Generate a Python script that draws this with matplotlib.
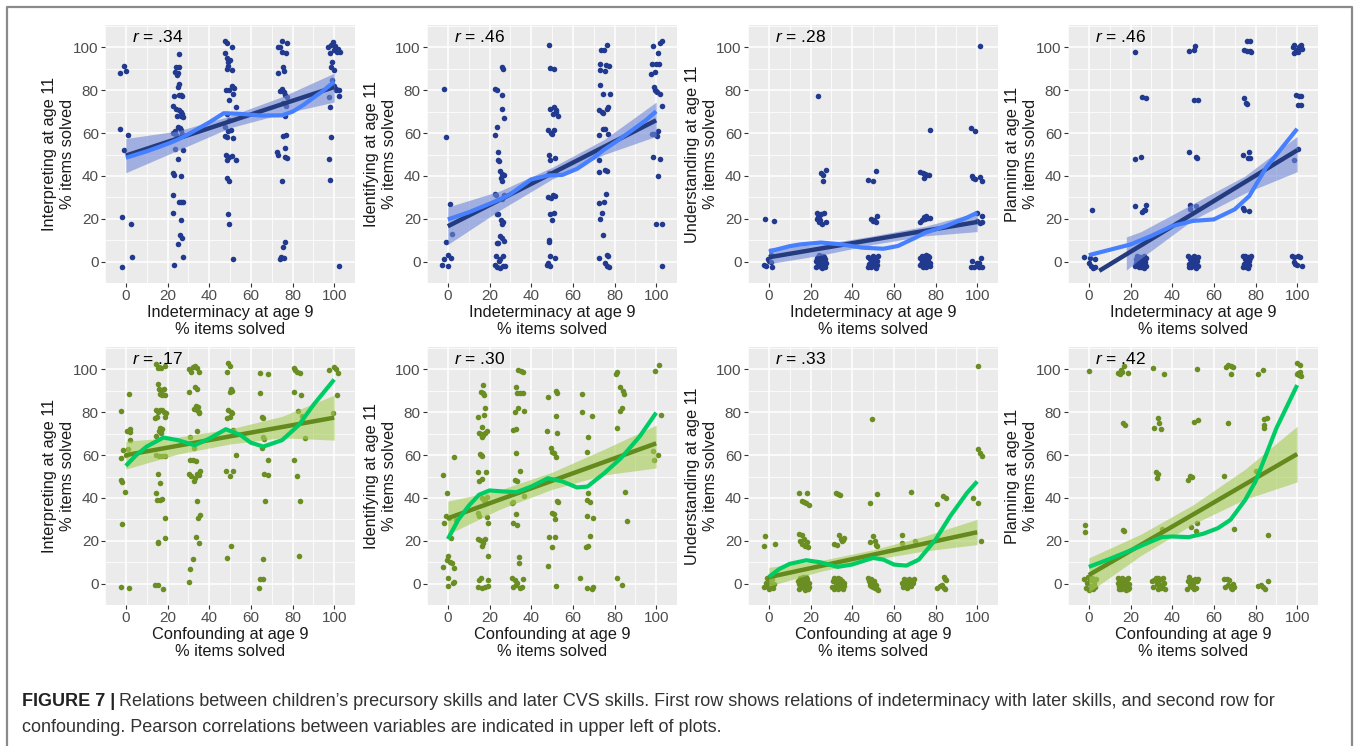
import matplotlib
matplotlib.use("Agg")
import matplotlib.pyplot as plt
from matplotlib.ticker import MultipleLocator
import numpy as np

plt.rcParams['font.family'] = ['Liberation Sans', 'DejaVu Sans']
plt.rcParams['mathtext.fontset'] = 'custom'
plt.rcParams['mathtext.it'] = 'Liberation Sans:italic'
plt.rcParams['mathtext.rm'] = 'Liberation Sans'

# ---------------- data ----------------
y_names = ["Interpreting", "Identifying", "Understanding", "Planning"]
x_names = ["Indeterminacy", "Confounding"]
r_values = [[".34", ".46", ".28", ".46"], [".17", ".30", ".33", ".42"]]

# row 1: indeterminacy (x) vs. later skills (y)
pts_ind_interp = [
    (-2.7, 88), (-0.8, 91.5), (0, 89), (-2.7, 62), (-0.8, 52), (1.1, 59), (-1.8, 21), (2.7, 17.4), (3, 2.2), (-1.9, -2.3),
    (25.5, 97), (24, 91), (25.5, 91), (23.5, 88.5), (25, 88), (24.5, 87), (25.5, 83), (25, 81.5), (23, 77.5), (25.5, 78),
    (26.5, 78), (27, 77.5), (22.5, 72.5), (24, 71.5), (25.5, 71), (26.5, 70), (27, 69), (24.5, 68), (26.5, 68), (27.5, 67.5),
    (25, 63), (26, 62.5), (23.5, 61), (22.5, 60), (24, 59), (26.5, 61.5), (27, 59.5), (23.5, 52.5), (27.5, 52), (25, 48),
    (22.5, 41.5), (23, 40.5), (26.5, 40), (22.5, 31), (25.5, 28), (26.5, 28), (27.5, 28), (22.5, 22.5), (26.5, 19.5),
    (26, 12.5), (27, 11), (25, 8), (27.5, 2.3), (23, -1.5),
    (47.5, 103), (48.5, 102), (51, 100), (47.5, 97.5), (48.5, 95), (50, 94), (49, 93), (49, 91.5), (48.5, 90), (51, 89.5),
    (48, 80), (49.5, 80), (51, 82), (52, 81), (51.5, 78.5), (49.5, 75.5), (53, 72), (48.5, 69), (49.5, 66), (47.5, 63),
    (50.5, 61.5), (49, 61), (47.5, 58.5), (48.5, 58), (51.5, 57.5), (48, 50), (49.5, 49), (51, 49.5), (48.5, 47.5),
    (53, 47.5), (48.5, 39), (49.5, 37.5), (49, 22), (49.5, 17.4), (51.5, 1),
    (75, 103), (77.5, 102), (73, 100), (74, 100), (75, 98), (77, 97.5), (75.5, 91), (76, 89), (73, 88), (74, 79.5),
    (75, 80.5), (76, 79), (76.5, 78), (77.5, 77), (75.5, 74), (77, 72.5), (76.5, 68), (75.5, 58.5), (77, 59), (72.5, 51),
    (73, 50), (76.5, 53), (76.5, 49), (77.5, 48.5), (75, 37.5), (76.5, 9), (75.5, 7), (74.5, 2), (76, 1.5), (74, 1),
    (97, 100), (98.5, 101), (99.5, 102.5), (100, 99), (101.5, 98), (100.5, 100.5), (102, 99.5), (98, 97.5), (99, 93),
    (98.5, 91), (100, 89.5), (99, 85), (100, 82), (101, 80.5), (102.5, 80), (97.5, 77), (102.5, 77.5), (98, 72),
    (98.5, 58), (97.5, 48), (98, 38), (102.5, -2), (101, 80), (103, 98),
]
pts_ind_ident = [
    (-2, 80.5), (-1, 58), (1, 27), (2, 13), (-1, 9), (0, 3), (1.5, 1.5), (-2, 1), (-3, -1.5), (0, -2),
    (26, 91), (26.5, 90), (22.5, 80.5), (23.5, 80), (26, 78), (26, 71.5), (27, 67), (23.5, 63), (22.5, 59), (24, 51),
    (24, 47.5), (24.5, 47), (25, 42.5), (26, 41), (27, 40.5), (25.5, 39), (26, 37.5), (22.5, 31.5), (23, 31), (26, 29),
    (27, 31), (23.5, 22), (24, 22), (25.5, 19.5), (26.5, 18.5), (26, 17.5), (25, 12), (26, 11), (27, 9.5), (23.5, 8.5),
    (24, 8.5), (23, 2.5), (25, 1), (26.5, 2.5), (24.5, 0.5), (22.5, -1.5), (23.5, -2.5), (25, -3), (26.5, -2), (27.5, -2),
    (48.5, 101), (49, 90.5), (51, 90), (49, 71.5), (51, 72), (52, 71), (50.5, 69), (52, 70), (53, 68), (48, 61.5),
    (51, 61.5), (49.5, 60), (50, 59.5), (48.5, 50), (49, 47.5), (51.5, 48.5), (48.5, 41.5), (51.5, 42), (48, 30),
    (49.5, 29.5), (50.5, 31), (51.5, 30.5), (49, 22), (50, 19.5), (51, 22.5), (48.5, 10), (48.5, 9), (49, 2.5),
    (51.5, 1.5), (48, -0.5), (47.5, -1.5), (49, -2),
    (76.5, 101), (75, 99), (73.5, 99), (73, 92.5), (76, 92), (77.5, 91.5), (73, 89.5), (75.5, 89), (73, 82.5), (74.5, 78.5),
    (78, 78.5), (77, 72), (76.5, 71.5), (72.5, 71), (74, 70), (74.5, 69.5), (74.5, 62), (75.5, 62), (77, 59.5), (72.5, 59),
    (72.5, 47.5), (75.5, 43), (72.5, 42), (76.5, 42.5), (76, 31.5), (75, 28), (72.5, 27.5), (74, 22.5), (73, 20),
    (74.5, 12.5), (72.5, 1.5), (76.5, 3), (77, 2.5), (75.5, -0.5), (76.5, -2), (77.5, -2.5),
    (103, 103), (102, 102), (98.5, 100.5), (101, 97.5), (98, 92.5), (100, 92.5), (101.5, 92.5), (97.5, 87.5), (99.5, 88.5),
    (99, 81.5), (99.5, 80), (100, 79.5), (100.5, 79), (102, 78.5), (103, 72.5), (101, 61), (98, 59.5), (99, 59.5),
    (100.5, 58.5), (98.5, 49), (102, 48), (101, 40), (100, 17.5), (103, 17.5), (103, -2),
]
pts_ind_under = [
    (-2, 20), (2.5, 19), (-2.5, -1.5), (-1.5, -2), (0, 0.5), (1, 0), (1.5, -2.5), (-0.5, 1), (1, 3),
    (23.5, 77.5), (25, 41.5), (26, 40.5), (27.5, 43), (26, 37.5), (23, 22.5), (24, 21.5), (25, 22), (26.5, 22.5), (23, 20),
    (24.5, 19.5), (25.5, 17.5), (24, 18.5), (27.5, 18.5), (23.5, 21), (22.5, -2.5), (23, 0), (23.5, 2), (24, -1), (24.5, 1),
    (25, -2.5), (25.5, 0.5), (26, 2.5), (26.5, -1.5), (27, 1), (27.5, -0.5), (24, 3), (25.5, -3), (26.5, 2), (27, -2.5),
    (23, 1.5), (24.5, -1.5), (26, -0.5), (22.5, 0.5), (25, 2.5),
    (47.5, 38), (50, 37.5), (51.5, 42.5), (49, 20), (50.5, 19.5), (52, 21.5), (51.5, 18.5), (50, 19), (47.5, 2), (48, -1),
    (48.5, 1), (49, -2.5), (49.5, 0), (50, 2.5), (50.5, -1.5), (51, 1.5), (51.5, -3), (52, 0.5), (52.5, 2.5), (48.5, -2),
    (50, -0.5), (51, -2), (49, 1.5), (52, -1.5), (47.5, -2.5), (50.5, 0.5),
    (77.5, 61.5), (72.5, 42), (74, 41.5), (75, 41), (76, 40.5), (77, 40.5), (74.5, 39), (72.5, 18.5), (73.5, 19.5),
    (74.5, 21), (75.5, 21.5), (76.5, 20.5), (77.5, 20.5), (75, 20), (72.5, 1.5), (73, -1), (73.5, 2.5), (74, 0), (74.5, -2),
    (75, 1), (75.5, 3), (76, -1.5), (76.5, 0.5), (77, 2), (77.5, -0.5), (74, -2.5), (75.5, -2.5), (76.5, 2.5), (73.5, 0.5),
    (77.5, -2), (72.5, -1.5),
    (101.5, 100.5), (97, 62.5), (99, 61), (97.5, 40), (98, 39), (99, 38.5), (101.5, 39.5), (102.5, 37.5), (100, 22.5),
    (102.5, 21.5), (100, 19), (101.5, 18), (102.5, 18.5), (97.5, 0.5), (98.5, -2.5), (97, -2.5), (100, -0.5), (101, -0.5),
    (102, 1.5), (101, -2.5), (102.5, -2.5),
]
pts_ind_plan = [
    (1.5, 24), (-2.5, 2), (3, 1), (0, -0.5), (1, -2), (2, -3), (3, -2.5), (0.5, 1.5),
    (22, 98), (25.5, 77), (27.5, 76.5), (22, 48), (25, 49), (22, 26), (27.5, 26.5), (25.5, 23), (27, 24), (26.5, 24),
    (22, -2), (22.5, 1), (23, 2.5), (23.5, -1), (24, 0.5), (24.5, 2), (25, -2.5), (25.5, 1.5), (26, -0.5), (26.5, 2.5),
    (27, 0), (27.5, -2), (22.5, -0.5), (24, -2.5), (25.5, -1.5), (26.5, -3), (27.5, 1.5), (23, 0), (24.5, -1.5), (26, 2),
    (48, 98.5), (50.5, 99), (51, 100.5), (50.5, 75.5), (52.5, 75.5), (48, 51), (51.5, 49), (52, 48.5), (48.5, 26.5),
    (48.5, 24.5), (51.5, 26), (47.5, 2.5), (48, -1), (48.5, 1), (49, -2.5), (49.5, 0), (50, 2), (50.5, -1.5), (51, 1),
    (51.5, -3), (52, 0.5), (52.5, 2), (48, -2.5), (49.5, -1.5), (50.5, 2.5), (51.5, -0.5), (52.5, -2), (49, 1.5), (50, -0.5),
    (76, 103), (77.5, 103), (74.5, 99), (76, 98.5), (77.5, 98.5), (78, 98), (74.5, 76.5), (75.5, 74), (76, 73.5), (74, 50),
    (77, 51), (76.5, 48.5), (77.5, 48.5), (74, 25), (74.5, 24), (77, 23.5), (74, 2.5), (74.5, -1), (75, 1), (75.5, -2.5),
    (76, 0), (76.5, 2), (77, -1.5), (77.5, 1.5), (78, 2.5), (74, -2.5), (75.5, -0.5), (76.5, -3), (77, 0.5), (75, 2.5),
    (98, 100), (98.5, 101), (99.5, 98.5), (100, 99), (101, 100), (102, 101), (102.5, 99.5), (100.5, 98), (101.5, 100.5),
    (98.5, 97.5), (99.5, 78), (101, 77.5), (102, 77.5), (100.5, 73), (102, 73), (100.5, 52.5), (98.5, 47.5), (97.5, 2.5),
    (98.5, 2), (100.5, 2.5), (101.5, 2), (98.5, 0), (99, -1), (100, -1.5), (102.5, -2),
]

# row 2: confounding (x) vs. later skills (y)
pts_conf_interp = [
    (-2.5, 80.5), (0.5, 71.5), (2, 72), (2, 71), (1.5, 88.5), (2, 67), (1, 63), (-1.5, 62.5), (-2.5, 58.5), (0, 60),
    (-2.5, 48.5), (-2, 47.5), (-0.5, 43), (-2, 28), (-2.5, -1.5), (1.5, -2),
    (14.5, 102.5), (16, 101), (15.5, 100.5), (17, 100.5), (19, 101.5), (15.5, 93), (16, 91), (17.5, 90.5), (18.5, 91),
    (16.5, 88.5), (17.5, 88), (19, 88), (14.5, 81), (15.5, 80), (16.5, 81), (17.5, 81), (18.5, 80), (19.5, 79.5), (14, 77.5),
    (15, 78), (19, 78), (16.5, 72.5), (17.5, 72), (16, 71.5), (17, 70.5), (14.5, 69), (14.5, 60), (16, 59.5), (17.5, 59.5),
    (19, 59.5), (15.5, 51), (16.5, 47), (14.5, 42.5), (15, 39), (16.5, 39), (17.5, 39.5), (19, 30.5), (19, 21.5),
    (15.5, 19.5), (15.5, 19), (14, -0.5), (15.5, -0.5), (18, -2.5),
    (30.5, 100), (31.5, 99), (32, 101), (33, 101.5), (34, 100.5), (35, 99), (33, 92), (34, 91), (30.5, 89.5), (33.5, 83),
    (34.5, 82.5), (34, 81), (35, 80), (32.5, 81.5), (35, 79.5), (34, 71.3), (31, 68.6), (32.5, 63.4), (31, 57.8),
    (32, 57.5), (33.5, 57.3), (30.5, 51.2), (31.5, 50.3), (33, 49.2), (34, 51), (32.5, 47.7), (35.5, 52.8), (35, 50.8),
    (34, 38.8), (35.5, 32), (34.5, 30.6), (33.5, 21.7), (35, 19), (32, 11.5), (31, 7), (30.5, 0.8),
    (49, 102.8), (50, 101.5), (48.5, 99), (50.5, 91), (51, 90), (50, 89.6), (49, 81), (50.5, 80), (51, 79.5), (50, 78),
    (48.5, 77.5), (51.5, 71.7), (53, 60), (48, 52.8), (51.5, 52.8), (50, 50.3), (50.5, 17.7), (48.5, 12),
    (64.5, 98.4), (68, 98), (64.5, 89), (65.5, 78), (66, 77.5), (66, 68.6), (66.5, 67.4), (65.5, 63.2), (68, 57.5),
    (66.5, 51.2), (68, 50.5), (67, 38.4), (66, 11.5), (64.5, 2.2), (66, 2.2), (64, -2),
    (80.5, 100.5), (81, 99.7), (82, 98.8), (83.5, 98.4), (80.5, 89.6), (84, 88), (82.5, 80.6), (84.5, 78.3), (86, 68),
    (80.5, 57.8), (82, 50.3), (83.5, 38.4), (83, 12.7),
    (97.5, 99.7), (100, 101), (101, 100), (101.5, 88), (99.5, 79.5), (102, 98.5),
]
pts_conf_ident = [
    (-2.5, 50.5), (-0.5, 42.2), (3, 58.9), (-1, 31.4), (-2, 28.3), (0.5, 30.6), (4, 29.8), (1.5, 21.3), (0, 13),
    (-0.5, 11.2), (1, 10), (2, 9.6), (-2.5, 7.8), (3, 7.3), (0, 2.6), (2.5, 0.3), (0, -1.2), (3, 0.8),
    (17, 92.7), (16, 89.6), (17, 88.8), (17.5, 88), (18, 81.8), (17.5, 78.7), (14.5, 77.6), (16.5, 73), (15, 70.5),
    (16, 70), (17, 69.5), (18, 70.5), (16.5, 68.6), (19, 71.3), (15.5, 60.5), (16, 60), (16.5, 59.6), (14.5, 52.3),
    (15, 47.7), (16.5, 48.8), (18.5, 52.3), (16.5, 40), (17.5, 39), (19, 40.5), (18, 38.4), (14.5, 33.2), (15, 31.4),
    (19, 31), (19.5, 28.3), (14.5, 20.8), (15.5, 20.5), (17, 19), (16.5, 17.7), (18, 21), (19.5, 12.7), (16, 2.6),
    (15, 1.6), (19.5, 1.6), (14.5, -1.6), (16.5, -2), (18, -1.6), (19.5, -1.2),
    (33.5, 99.7), (35, 99.2), (36, 99), (32.5, 91.6), (33, 88.8), (34.5, 89), (36, 89), (32, 80.2), (33.5, 81.8),
    (36.5, 80.8), (31.5, 71.7), (32.5, 72.4), (32.5, 61), (34.5, 52.8), (32, 48.4), (33, 47.7), (36.5, 40.7), (31.5, 38),
    (31, 37.6), (32.5, 32.5), (31.5, 28.3), (33, 27.5), (34, 12.3), (34, 9.6), (31, 2.6), (32, 1.6), (33, 0.3), (34.5, -2),
    (35.5, -1.6), (36, 2), (31.5, -1.6), (32.5, -0.5),
    (48, 87.3), (52, 90), (52.5, 89), (52, 78.3), (47.5, 71.3), (52.5, 70.5), (49.5, 63.2), (50, 61.6), (51, 60.9),
    (52, 59.3), (52.5, 38.8), (53, 38), (50, 33.2), (51, 32.5), (51.5, 30.3), (48.5, 21.7), (51.5, 21.7), (50, 17),
    (48, 8.4), (52, -1.2),
    (64.5, 88.4), (64.5, 80.3), (69, 78.3), (67.5, 68.6), (67, 61.6), (67.5, 42.5), (67, 39), (68, 38), (67, 31.7),
    (69.5, 30.6), (68, 22.4), (67.5, 17.7), (66.5, 17), (63.5, 2.6), (67, -2), (69, -2.5), (69.5, -1.6),
    (81, 99), (80.5, 98.1), (82.5, 91.6), (84, 89.9), (84.5, 88.4), (83.5, 82.1), (82.5, 80.7), (81, 72.8), (85, 42.7),
    (86, 29), (81, 2.6), (83.5, -0.5),
    (101.5, 102.3), (99.5, 99.2), (102.5, 78.7), (98.5, 62.1), (101, 60.1), (99, 57.8),
]
pts_conf_under = [
    (-2, 22), (-2.5, 17.4), (3, 18.5), (-2.5, -1.5), (-1.5, 0.5), (-1, 2.5), (0, -2.5), (0.5, 1), (1, -1), (1.5, 2),
    (2, -2), (2.5, 0), (-0.5, -1.5), (1, 3), (0, 0.5),
    (14.5, 42.5), (18.5, 42.2), (16, 38.4), (17, 38), (18, 37.6), (19.5, 36.8), (14.5, 23), (16, 22.5), (17, 21), (15, 20),
    (18.5, 19.5), (16, 18.5), (17.5, 17.5), (19, 17), (14, 1), (14.5, -2.5), (15, 2.5), (15.5, -1), (16, 0.5), (16.5, 3),
    (17, -2), (17.5, 1.5), (18, -0.5), (18.5, 2), (19, -2.5), (19.5, 0.5), (14.5, 0), (15.5, 2), (16.5, -1.5), (17.5, -3),
    (18.5, 1), (19.5, -1.5), (16, 1.5), (18, 3),
    (32, 42.5), (33, 41.9), (34, 41.5), (31.5, 18.5), (32.5, 18), (33.5, 22.5), (34.5, 21), (35.5, 20.5), (35, 19.7),
    (36, 21.5), (30.5, -1.5), (31, 1), (31.5, 2.5), (32, -0.5), (32.5, 1.5), (33, -2.5), (33.5, 0), (34, 2), (34.5, -1.5),
    (35, 1), (35.5, -2.5), (36, 0.5), (31.5, -2.5), (33, 2.5), (34.5, 0.5), (36, -1),
    (49.5, 76.9), (48.5, 37.6), (52, 41.8), (50, 22.4), (48.5, 19.3), (51, 19.8), (51.5, 18.2), (52, 17.4), (47.5, 2.5),
    (48, 1), (48.5, -0.5), (49, 2), (49.5, 0), (50, -1.5), (50.5, 1), (51, -2), (51.5, -0.5), (52, -2.5), (52.5, -3),
    (49, -1),
    (68, 43), (64, 22.8), (64, 19), (70, 20), (64, 0.5), (64.5, -1.5), (65, 2), (65.5, -0.5), (66, 1.5), (66.5, -2),
    (67, 0), (67.5, 2), (68, -1), (68.5, 1), (69, 0.5), (69.5, 2),
    (80.5, 37.3), (83.5, 40.7), (85, 40), (84, 3), (84.5, 2.2), (85, 1.5), (83, -0.5), (84, -2), (84.5, -2.5), (80.5, -2),
    (82, -1),
    (100.5, 101.5), (100.5, 62.9), (101.5, 60.9), (102.5, 59.6), (98, 40.2), (100.5, 37.6), (102, 19.7),
]
pts_conf_plan = [
    (0, 99.2), (-2, 27.2), (-2, 24.1), (-2.5, 2), (-1.5, -2), (-1, 0.5), (0, -3), (0.5, 1.5), (1, -1), (1.5, 2.5),
    (2, -2.5), (2.5, 0.5), (3, -1.5), (-0.5, 3), (3.5, 2),
    (14, 98.5), (15, 97.8), (16, 99), (17, 101.5), (15.5, 99.7), (19, 98.4), (16.5, 74.8), (17.5, 74), (16.5, 25.1),
    (17, 24.4), (14, 2.5), (14.5, -1), (15, 1), (15.5, -2.5), (16, 0), (16.5, 2), (17, -1.5), (17.5, 1.5), (18, -3),
    (18.5, 0.5), (19, 2.5), (19.5, -2), (14.5, -2.5), (15.5, 2), (16.5, -0.5), (17.5, -2.5), (18.5, 2), (19.5, 0),
    (15, -1.5), (16, 2.5), (17, 0.5), (18, -1), (19, -2.5), (14, 0.5), (16, -2), (18, 1.5),
    (31, 100.5), (36, 97.7), (33, 77.2), (33.5, 74.8), (31.5, 72.5), (34.5, 72.2), (32, 51.9), (33, 51.2), (32.5, 49.2),
    (35, 25.6), (30.5, 1), (31, -1.5), (32, 2.5), (32.5, 0), (33, -2.5), (33.5, 1.5), (34, -0.5), (34.5, 2), (35, -1),
    (35.5, 2.5), (36, 0.5), (36.5, -2.5), (31.5, 1.5), (33, 2.5), (34.5, -2),
    (52, 100), (52.5, 76.4), (50.5, 75.6), (48.5, 50.3), (49.5, 50), (47.5, 48.4), (52, 28.3), (49, 26.2), (51.5, 24.7),
    (47, -2.5), (47.5, 1), (48, 3), (48.5, -0.5), (49, 1.5), (49.5, -1.5), (50, 0), (51, 2), (51.5, -2), (52, 1), (52.5, 2),
    (50.5, -2.5), (49, -1),
    (67, 102.3), (68, 101.5), (66, 101.2), (68, 98.1), (69, 101), (67, 75.2), (65, 50.3), (69.5, 25.6), (65, 2),
    (65.5, -1.5), (66.5, 2), (67, -0.5), (67.5, 1.5), (68, -2), (68.5, -2.5), (69, 0), (69.5, -1.5), (68, -1),
    (81, 98.1), (83.5, 99.7), (84, 76.9), (85.5, 77.5), (84, 74), (84, 72.8), (80, 52.8), (86, 22.5), (86, 1.1),
    (83.5, -1.7), (81, -1.2), (84.5, -2.5), (82.5, -0.5),
    (100, 102.8), (101.5, 102.3), (100.5, 98.4), (101, 97.5), (102, 97), (100, 97.8), (101.5, 99),
]

# linear fits (end points) and 95% bands
fit_x = [[(0, 100), (0, 100), (0, 100), (5, 100)],
         [(0, 100), (0, 100), (0, 100), (0, 100)]]
fit_y = [[(49.5, 81.5), (16.5, 66), (2, 18.5), (-4.3, 52)],
         [(60, 77.5), (30.5, 65.5), (3, 24), (4, 60.5)]]
band_x = [[[0, 25, 50, 75, 100], [0, 25, 50, 75, 100], [0, 25, 50, 75, 100], [18, 25, 50, 75, 100]],
          [[0, 25, 50, 75, 100]] * 4]
band_lo = [[[41.5, 52, 62.5, 69, 74.5], [8, 24, 38.5, 50, 58.5], [-1, 3, 8, 12, 14], [-4, 1.5, 19.5, 32, 42]],
           [[53.5, 60.5, 65.2, 68.1, 67], [23, 34.75, 44, 50.75, 54], [-1.2, 5.75, 11.2, 15.25, 18.2],
            [-4, 13.1, 27.75, 39.4, 47.5]]]
band_hi = [[[57.5, 61, 68, 77, 88], [25.5, 33, 44, 57, 74.5], [6.5, 8, 12, 16.5, 23], [11.5, 14, 27, 40, 58.5]],
           [[66.5, 68.4, 72.2, 78.1, 88], [38.5, 43.75, 52, 62.75, 74], [7.6, 10.75, 15.8, 22.25, 30],
            [12, 23.1, 36.75, 53.4, 73.5]]]

# loess curves
loess_ind_interp_x = [0, 10, 20, 25, 30, 40, 47, 55, 65, 75, 80, 85, 90, 95, 100]
loess_ind_interp_y = [48.5, 51.5, 55, 57, 59.5, 65, 69.3, 69, 68.2, 68.3, 70, 73, 76.5, 80, 84]
loess_ind_ident_x = [0, 10, 20, 25, 30, 40, 48, 55, 62, 70, 75, 80, 88, 95, 100]
loess_ind_ident_y = [19.7, 23, 27, 29, 31.5, 38.4, 40.2, 40.5, 43.3, 48.5, 52.3, 55.5, 61, 66, 70.2]
loess_ind_under_x = [0, 10, 15, 25, 35, 45, 55, 62, 70, 75, 85, 95, 100]
loess_ind_under_y = [4.7, 7.2, 8, 8.9, 8, 6.5, 6, 7.3, 11, 13.5, 16.6, 20.5, 22.8]
loess_ind_plan_x = [0, 10, 20, 30, 40, 50, 60, 70, 77, 85, 92, 100]
loess_ind_plan_y = [3, 5.5, 8, 12, 16.6, 19, 19.7, 24.4, 30.6, 43.8, 52.3, 62]
loess_conf_interp_x = [0, 5, 10, 18, 25, 33, 40, 48, 55, 60, 66, 75, 83, 90, 100]
loess_conf_interp_y = [55, 60, 64, 68.2, 67, 64.6, 67.7, 72.1, 69.4, 65.8, 64, 67, 74, 83.4, 95.3]
loess_conf_ident_x = [0, 5, 10, 15, 20, 27, 33, 40, 48, 55, 62, 67, 75, 83, 92, 100]
loess_conf_ident_y = [20.8, 29.8, 36.3, 41.5, 43.5, 43, 42.7, 45.3, 49.2, 47.7, 44.9, 45.3, 51.5, 58.5, 68.6, 79.8]
loess_conf_under_x = [0, 5, 10, 18, 25, 33, 40, 50, 55, 60, 66, 72, 80, 87, 95, 100]
loess_conf_under_y = [3.1, 6.8, 9.2, 10.9, 9.9, 7.8, 8.9, 12, 11.2, 8.9, 8.4, 11.2, 20.5, 31.4, 42.2, 47.7]
loess_conf_plan_x = [0, 10, 20, 30, 35, 40, 48, 55, 62, 68, 75, 80, 85, 90, 95, 100]
loess_conf_plan_y = [7.8, 11.5, 15.5, 19.7, 21.7, 22, 21.7, 23.3, 25.9, 29.8, 39, 47.7, 60, 72.5, 82.6, 92.7]

points = [[pts_ind_interp, pts_ind_ident, pts_ind_under, pts_ind_plan],
          [pts_conf_interp, pts_conf_ident, pts_conf_under, pts_conf_plan]]
loess = [[(loess_ind_interp_x, loess_ind_interp_y), (loess_ind_ident_x, loess_ind_ident_y),
          (loess_ind_under_x, loess_ind_under_y), (loess_ind_plan_x, loess_ind_plan_y)],
         [(loess_conf_interp_x, loess_conf_interp_y), (loess_conf_ident_x, loess_conf_ident_y),
          (loess_conf_under_x, loess_conf_under_y), (loess_conf_plan_x, loess_conf_plan_y)]]

# colours per row
pt_col = ["#213a8f", "#6b8e23"]
fit_col = ["#243b7e", "#648a1e"]
band_col = ["#6f88d8", "#a6cc55"]
loess_col = ["#4680ff", "#00cc66"]

# ---------------- figure ----------------
W, H = 1357, 746
fig = plt.figure(figsize=(W / 100, H / 100), dpi=100)

lefts = [105, 427, 748, 1068]
tops = [25, 347]
pw, ph = 250, 258

for r in range(2):
    for c in range(4):
        ax = fig.add_axes([lefts[c] / W, 1 - (tops[r] + ph) / H, pw / W, ph / H])
        ax.set_facecolor("#ebebeb")
        for s in ax.spines.values():
            s.set_visible(False)
        ax.set_xlim(-10, 110)
        ax.set_ylim(-10, 110.5)
        ax.xaxis.set_major_locator(MultipleLocator(20))
        ax.yaxis.set_major_locator(MultipleLocator(20))
        ax.xaxis.set_minor_locator(MultipleLocator(10))
        ax.yaxis.set_minor_locator(MultipleLocator(10))
        ax.grid(which="major", color="white", lw=1.1)
        ax.grid(which="minor", color="white", lw=0.55)
        ax.set_axisbelow(True)
        ax.tick_params(which="major", length=3, width=0.8, color="#333333",
                       labelsize=11, labelcolor="#4d4d4d", pad=1.5)
        ax.tick_params(which="minor", length=0)

        p = np.array(points[r][c])
        ax.scatter(p[:, 0], p[:, 1], s=16, color=pt_col[r], lw=0, zorder=2)

        bx = band_x[r][c]
        ax.fill_between(bx, band_lo[r][c], band_hi[r][c], color=band_col[r], alpha=0.6, lw=0, zorder=3)
        ax.plot(fit_x[r][c], fit_y[r][c], color=fit_col[r], lw=3.2, solid_capstyle="butt", zorder=4)
        lx, ly = loess[r][c]
        ax.plot(lx, ly, color=loess_col[r], lw=3.0, solid_capstyle="butt", zorder=5)

        ax.text(3, 105, "$r$ = " + r_values[r][c], fontsize=12.5, color="black",
                ha="left", va="center", zorder=6)
        ax.set_xlabel(x_names[r] + " at age 9\n% items solved", fontsize=11.8,
                      color="#1a1a1a", labelpad=1, linespacing=1.18)
        ax.set_ylabel(y_names[c] + " at age 11\n% items solved", fontsize=11.8,
                      color="#1a1a1a", labelpad=-1, linespacing=1.18)

# frame around figure and caption
fl = plt.Line2D([7 / W, 7 / W, 1352 / W, 1352 / W], [0, 1 - 7 / H, 1 - 7 / H, 0],
                transform=fig.transFigure, color="#8a8a8a", lw=1.6)
fig.add_artist(fl)

# caption
cap_size = 12.95
y1 = 1 - 701 / H
y2 = 1 - 727 / H
t1 = fig.text(22 / W, y1, "FIGURE 7 |", fontsize=cap_size, fontweight="bold", va="center", color="#222222")
fig.canvas.draw()
bb = t1.get_window_extent()
fig.text(bb.x1 / W + 4 / W, y1,
         "Relations between children\u2019s precursory skills and later CVS skills. First row shows relations of "
         "indeterminacy with later skills, and second row for", fontsize=cap_size, va="center", color="#333333")
fig.text(22 / W, y2, "confounding. Pearson correlations between variables are indicated in upper left of plots.",
         fontsize=cap_size, va="center", color="#333333")

fig.savefig("out.png", dpi=100)
